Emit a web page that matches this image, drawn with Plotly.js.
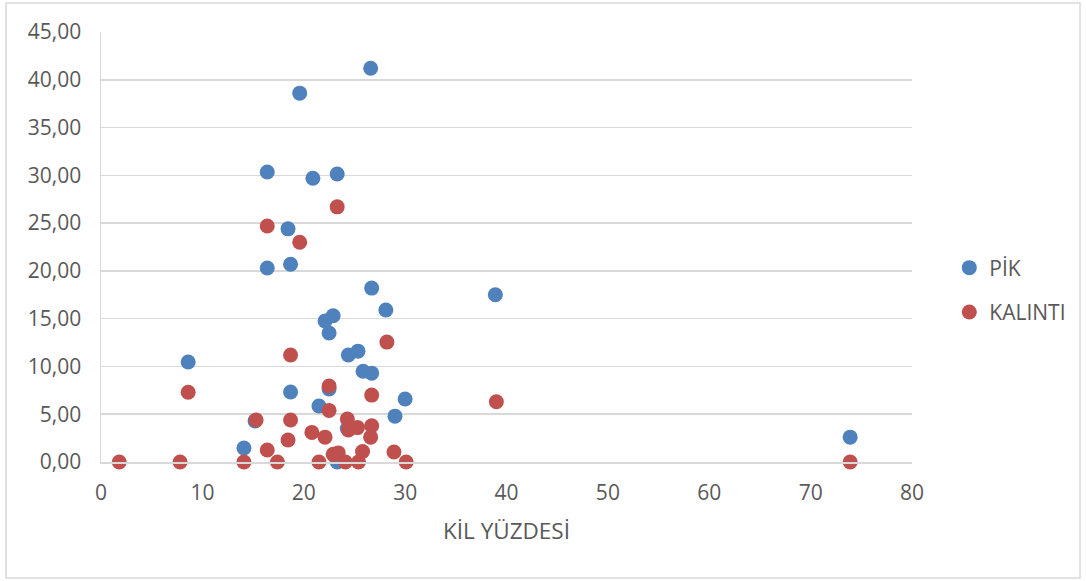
<!DOCTYPE html>
<html>
<head>
<meta charset="utf-8">
<script src="https://cdn.plot.ly/plotly-3.0.1.min.js"></script>
<style>
html,body{margin:0;padding:0;background:#fff;}
#chart{width:1086px;height:581px;}
</style>
</head>
<body>
<div id="chart"></div>
<script>
// Clay percentage (x) and values for each series
var pikX = [8.6, 14.1, 15.2, 16.4, 16.4, 18.45, 18.7, 18.7, 19.6, 20.9, 21.5, 22.1, 22.9, 22.5, 22.5, 23.3, 23.3, 24.4, 25.35, 25.85, 26.7, 26.6, 26.7, 28.1, 29.0, 30.0, 38.9, 73.9, 24.3];
var pikY = [10.46, 1.47, 4.3, 30.35, 20.3, 24.4, 20.7, 7.33, 38.6, 29.7, 5.86, 14.75, 15.3, 13.5, 7.65, 30.14, 0.0, 11.2, 11.6, 9.5, 9.3, 41.2, 18.2, 15.9, 4.8, 6.6, 17.5, 2.6, 3.5];

var kalintiX = [1.8, 7.8, 8.6, 14.1, 15.3, 16.4, 16.4, 17.4, 18.45, 18.7, 18.7, 19.6, 20.8, 21.5, 22.1, 22.5, 22.5, 23.3, 22.9, 23.4, 24.1, 24.3, 24.4, 25.3, 25.4, 25.8, 26.7, 26.7, 26.6, 28.2, 28.9, 30.1, 39.0, 73.9];
var kalintiY = [0.0, 0.0, 7.3, 0.0, 4.4, 24.7, 1.26, 0.0, 2.3, 11.2, 4.4, 23.0, 3.1, 0.0, 2.6, 7.95, 5.4, 26.7, 0.8, 0.95, 0.0, 4.5, 3.35, 3.6, 0.0, 1.1, 7.0, 3.8, 2.6, 12.55, 1.05, 0.0, 6.3, 0.0];

var seriesNames = ['PİK', 'KALINTI'];
var xTitle = 'KİL YÜZDESİ';

var textColor = '#595959';
var fontFam = '"Open Sans", sans-serif';

var traces = [
  {x: pikX, y: pikY, name: seriesNames[0], type: 'scatter', mode: 'markers', cliponaxis: false, legendgroup: 'a',
   marker: {color: '#4F81BD', size: 15}},
  {x: kalintiX, y: kalintiY, name: seriesNames[1], type: 'scatter', mode: 'markers', cliponaxis: false, legendgroup: 'b',
   marker: {color: '#C0504D', size: 15}}
];

var layout = {
  width: 1086, height: 581,
  margin: {l: 101, r: 174, t: 32, b: 119, autoexpand: false},
  paper_bgcolor: '#ffffff', plot_bgcolor: '#ffffff',
  separators: ',.',
  font: {family: fontFam, size: 21, color: textColor},
  showlegend: true,
  legend: {x: 1.046, xanchor: 'left', y: 0.40, yanchor: 'middle', traceorder: 'grouped', tracegroupgap: 14,
           font: {family: fontFam, size: 21, color: textColor}, bgcolor: 'rgba(0,0,0,0)', itemwidth: 30},
  xaxis: {
    range: [0, 80], dtick: 10, tick0: 0, showgrid: false, zeroline: false,
    showline: true, linecolor: '#d9d9d9', linewidth: 1.5, ticks: '', ticklabelstandoff: 11,
    tickfont: {family: fontFam, size: 21, color: textColor},
    title: {text: xTitle, font: {family: fontFam, size: 22.5, color: textColor}, standoff: 18}
  },
  yaxis: {
    range: [0, 45], dtick: 5, tick0: 0, tickformat: '.2f', showgrid: true, gridcolor: '#d9d9d9', gridwidth: 1.5,
    zeroline: false, showline: true, linecolor: '#d9d9d9', linewidth: 1.5, ticks: '', ticklabelstandoff: 14,
    tickfont: {family: fontFam, size: 21, color: textColor}
  },
  shapes: [
    {type: 'rect', xref: 'paper', yref: 'paper', x0: (6 - 101) / 811, x1: (1080 - 101) / 811,
     y0: (462 - 578) / 430, y1: (462 - 3) / 430, line: {color: '#d9d9d9', width: 1.5}, fillcolor: 'rgba(0,0,0,0)', layer: 'below'}
  ]
};

Plotly.newPlot('chart', traces, layout, {displayModeBar: false, staticPlot: true});
</script>
</body>
</html>
